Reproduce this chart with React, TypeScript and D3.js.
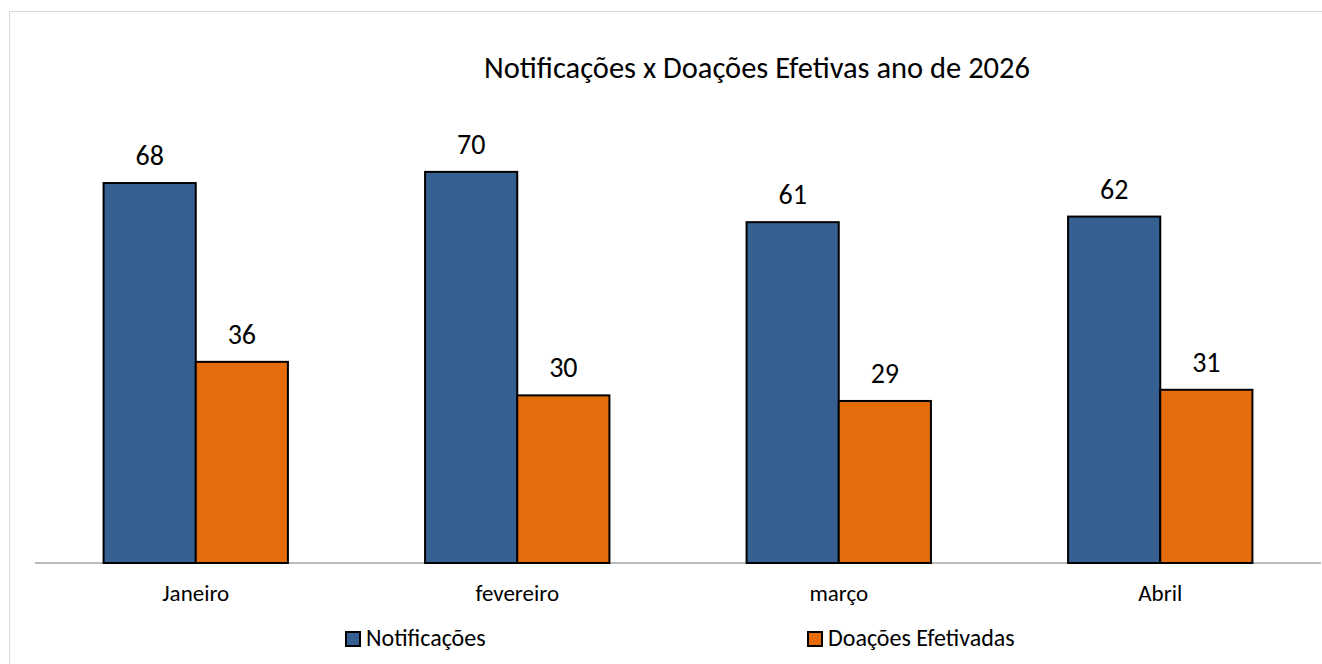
import React from "react";
import * as d3 from "d3";

const categories = ["Janeiro", "fevereiro", "março", "Abril"];
const notificacoes = [68, 70, 61, 62];
const doacoes = [36, 30, 29, 31];
const seriesNames = ["Notificações", "Doações Efetivadas"];
const colors = ["#366092", "#E46C0A"];
const title = "Notificações x Doações Efetivas ano de 2026";

const W = 1322;
const H = 664;
const FONT = "Carlito, Calibri, 'Open Sans', sans-serif";

export default function App() {
  const x0 = d3.scaleBand<string>().domain(categories).range([35, 1321]).paddingInner(0.4266).paddingOuter(0.2133);
  const x1 = d3.scaleBand<string>().domain(seriesNames).range([0, x0.bandwidth()]);
  const y = d3.scaleLinear().domain([0, 80]).range([563, 116]);
  const series = [notificacoes, doacoes];

  return (
    <svg width={W} height={H} style={{ position: "absolute", left: 0, top: 0, fontFamily: FONT }}>
      <rect x={9.5} y={11.5} width={1330} height={700} fill="white" stroke="#d9d9d9" strokeWidth={1} />
      <text x={757} y={78} textAnchor="middle" fontSize={30.5} fill="#000">{title}</text>
      <line x1={35} x2={1321} y1={y(0)} y2={y(0)} stroke="#a6a6a6" strokeWidth={1.5} />
      {categories.map((c, i) => (
        <g key={c}>
          {series.map((s, j) => {
            const bx = (x0(c) as number) + (x1(seriesNames[j]) as number);
            const bw = x1.bandwidth();
            return (
              <g key={j}>
                <rect x={bx} y={y(s[i])} width={bw} height={y(0) - y(s[i])} fill={colors[j]} stroke="#000" strokeWidth={2} />
                <text x={bx + bw / 2} y={y(s[i]) - 18} textAnchor="middle" fontSize={28} fill="#000">{s[i]}</text>
              </g>
            );
          })}
          <text x={(x0(c) as number) + x0.bandwidth() / 2} y={601} textAnchor="middle" fontSize={23} fill="#000">{c}</text>
        </g>
      ))}
      {seriesNames.map((n, j) => {
        const lx = j === 0 ? 346 : 808;
        return (
          <g key={n}>
            <rect x={lx} y={632} width={14} height={14} fill={colors[j]} stroke="#000" strokeWidth={2} />
            <text x={lx + 20} y={646} fontSize={24} fill="#000">{n}</text>
          </g>
        );
      })}
    </svg>
  );
}
